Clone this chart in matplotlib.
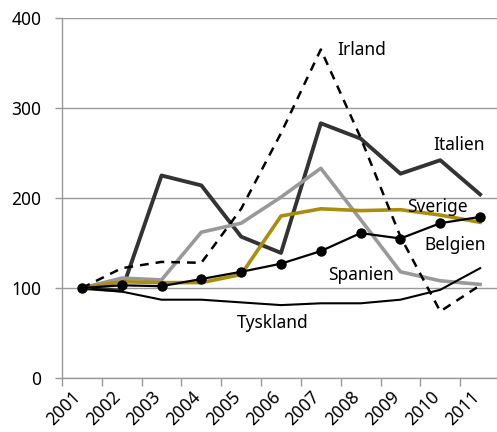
import numpy as np
import matplotlib
matplotlib.use('Agg')
import matplotlib.pyplot as plt
import matplotlib.transforms as mtransforms

years = ['2001', '2002', '2003', '2004', '2005', '2006', '2007', '2008', '2009', '2010', '2011']

irland = [100, 122, 129, 128, 188, 272, 365, 267, 157, 74, 103]
italien = [100, 97, 225, 214, 157, 139, 283, 266, 227, 242, 204]
sverige = [100, 107, 106, 106, 115, 180, 188, 186, 187, 181, 173]
spanien = [100, 111, 109, 162, 172, 201, 233, 176, 118, 108, 104]
belgien = [100, 103, 102, 110, 118, 127, 141, 161, 155, 172, 179]
tyskland = [100, 96, 87, 87, 84, 81, 83, 83, 87, 98, 122]

labels = ['Irland', 'Italien', 'Sverige', 'Belgien', 'Spanien', 'Tyskland']
label_pos = [(6.41, 359), (8.82, 253), (8.17, 184), (8.6, 142), (6.18, 109), (3.9, 56)]

plt.rcParams['font.family'] = ['Noto Sans', 'DejaVu Sans']

fig = plt.figure(figsize=(4.97, 4.32), dpi=100)
ax = fig.add_axes([62 / 497, 54 / 432, 438 / 497, 360 / 432])

x = np.arange(len(years))
grey = '#999999'

ax.plot(x, italien, color='#333333', lw=2.8, zorder=3)
ax.plot(x, spanien, color='#999999', lw=2.6, zorder=3)
ax.plot(x, tyskland, color='black', lw=1.5, zorder=4)
ax.plot(x, sverige, color='#AB8D0E', lw=2.6, zorder=4)
ax.plot(x, belgien, color='black', lw=1.6, marker='o', ms=6.5, zorder=5)
ax.plot(x, irland, color='black', lw=1.8, ls=(0, (3.5, 2.8)), zorder=6)

for name, (lx, ly) in zip(labels, label_pos):
    ax.text(lx, ly, name, fontsize=12.5, ha='left', va='baseline', zorder=7)

ax.set_xlim(-0.5, len(years) - 0.5)
ax.set_ylim(0, 400)
ax.set_yticks([0, 100, 200, 300, 400])
ax.yaxis.grid(True, color=grey, lw=1)
ax.set_axisbelow(True)

ax.set_xticks(x)
ax.set_xticklabels(years, rotation=45, ha='right', va='baseline', rotation_mode='anchor', fontsize=12.5)
shift = mtransforms.ScaledTranslation(1 / 100, 0, fig.dpi_scale_trans)
for lab in ax.get_xticklabels():
    lab.set_transform(lab.get_transform() + shift)
ax.set_xticks(np.arange(-0.5, len(years)), minor=True)
ax.tick_params(axis='x', which='major', length=0, pad=14)
ax.tick_params(axis='x', which='minor', length=6, color=grey, width=1)
ax.tick_params(axis='y', length=5, color=grey, width=1, labelsize=12.5, pad=10)

for s in ['top', 'right']:
    ax.spines[s].set_visible(False)
for s in ['left', 'bottom']:
    ax.spines[s].set_color(grey)
    ax.spines[s].set_linewidth(1)

fig.savefig('out.png', dpi=100)
